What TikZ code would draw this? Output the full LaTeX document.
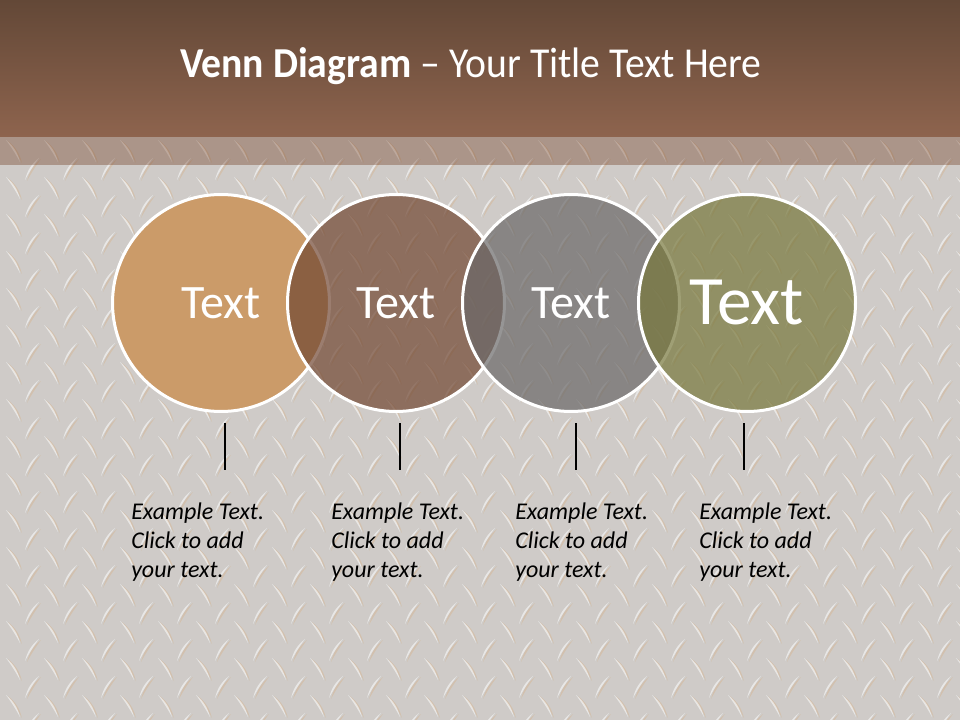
\documentclass[tikz,border=0pt]{standalone}
\usepackage{fontspec}
\setmainfont{Carlito}
\newfontfamily\titlefont[FakeStretch=0.93,Ligatures=TeX]{Carlito}
\usetikzlibrary{positioning}

\definecolor{headtop}{HTML}{634837}
\definecolor{headbot}{HTML}{8E644E}
\definecolor{platebg}{HTML}{C3BFBB}
\definecolor{tanfill}{HTML}{CB9B69}
\definecolor{brownfill}{HTML}{714732}
\definecolor{greyfill}{HTML}{6A6868}
\definecolor{olivefill}{HTML}{77773B}

\begin{document}
\begin{tikzpicture}[
  x=0.75pt, y=-0.75pt,
  plate/.style={fill=white, opacity=0.55},
  rust/.style={fill=brown!60!orange, opacity=0.22},
  venn/.style={circle, draw=white, line width=2.25pt, minimum size=162.75pt, text=white},
  circtext/.style={font=\fontsize{36}{40}\selectfont},
  desc/.style={align=left, anchor=north west, inner sep=0pt, font=\fontsize{18}{21.75}\selectfont\itshape},
  tick/.style={line width=1.5pt, black}
]
\useasboundingbox (0,0) rectangle (960,720);

% background plate
\fill[platebg] (0,137) rectangle (960,720);
\foreach \i in {0,...,25} {
  \foreach \j in {0,...,16} {
    \fill[rust] (\i*38+8, 141+\j*37) to[bend left=18] ++(14,22) to[bend right=4] cycle;
    \fill[plate] (\i*38+6, 140+\j*37) to[bend left=18] ++(14,22) to[bend right=4] cycle;
    \fill[rust] (\i*38+41, 159+\j*37) to[bend right=18] ++(-14,22) to[bend left=4] cycle;
    \fill[plate] (\i*38+39, 158+\j*37) to[bend right=18] ++(-14,22) to[bend left=4] cycle;
  }
}
\fill[white, opacity=0.2] (0,165) rectangle (960,720);
\fill[headbot, opacity=0.45] (0,137) rectangle (960,165);

% header band
\shade[top color=headtop, bottom color=headbot] (0,0) rectangle (960,137);
\node[text=white, font=\titlefont\fontsize{32}{38}\selectfont] (title) at (471,66)
  {\textbf{Venn Diagram} – Your Title Text Here};

% circles
\node[venn, fill=tanfill] (c1) at (221,303) {};
\node[venn, fill=brownfill, fill opacity=0.7] (c2) at (396,303) {};
\node[venn, fill=greyfill, fill opacity=0.7] (c3) at (571,303) {};
\node[venn, fill=olivefill, fill opacity=0.7] (c4) at (747,303) {};

\node[circtext, text=white] (t1) at (c1) {Text};
\node[circtext, text=white] (t2) at (c2) {Text};
\node[circtext, text=white] (t3) at (c3) {Text};
\node[text=white, font=\fontsize{52}{58}\selectfont] (t4) at (c4) {Text};

% ticks
\coordinate (k1a) at (225,423); \coordinate (k1b) at (225,470);
\coordinate (k2a) at (400,423); \coordinate (k2b) at (400,470);
\coordinate (k3a) at (576,423); \coordinate (k3b) at (576,470);
\coordinate (k4a) at (744,423); \coordinate (k4b) at (744,470);
\draw[tick] (k1a) -- (k1b);
\draw[tick] (k2a) -- (k2b);
\draw[tick] (k3a) -- (k3b);
\draw[tick] (k4a) -- (k4b);

% descriptions
\node[desc] (d1) at (131,503) {Example Text.\\Click to add\\your text.};
\node[desc] (d2) at (331,503) {Example Text.\\Click to add\\your text.};
\node[desc] (d3) at (515,503) {Example Text.\\Click to add\\your text.};
\node[desc] (d4) at (699,503) {Example Text.\\Click to add\\your text.};

\end{tikzpicture}
\end{document}
